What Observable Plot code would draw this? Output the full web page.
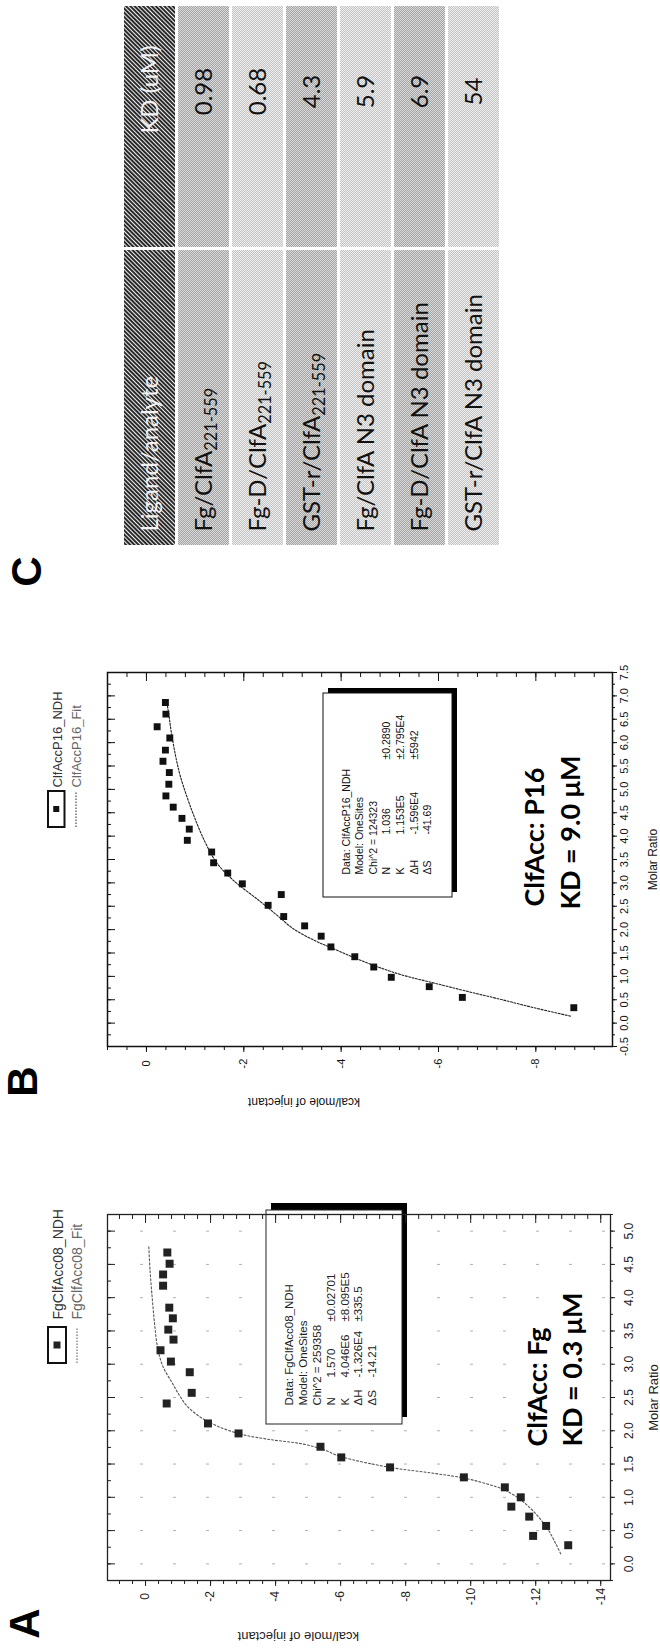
<!DOCTYPE html>
<html>
<head>
<meta charset="utf-8">
<script src="https://cdn.jsdelivr.net/npm/d3@7"></script>
<script src="https://cdn.jsdelivr.net/npm/@observablehq/plot@0.6"></script>
<style>
  html, body { margin: 0; padding: 0; background: #fff; }
  #page { position: relative; width: 660px; height: 1648px; overflow: hidden; background: #fff; }
  .panel { position: absolute; left: 0; transform-origin: 0 0; transform: rotate(-90deg); }
  .panel svg { display: block; }
</style>
</head>
<body>
<div id="page"></div>
<script>
// ================= DATA =================
// Panel A : ClfAcc vs Fg (ITC)
const aMolarRatio = [4.68, 4.51, 4.35, 4.18, 3.85, 3.69, 3.52, 3.37, 3.21, 3.04, 2.88, 2.57, 2.41, 2.11, 1.96, 1.76, 1.60, 1.45, 1.30, 1.15, 1.00, 0.86, 0.71, 0.57, 0.42, 0.28];
const aHeat = [-0.67, -0.74, -0.54, -0.54, -0.73, -0.84, -0.70, -0.86, -0.46, -0.78, -1.36, -1.42, -0.65, -1.92, -2.86, -5.38, -6.02, -7.52, -9.79, -11.05, -11.54, -11.25, -11.80, -12.32, -11.92, -13.00];
const aFitMolarRatio = [0.15, 0.30, 0.53, 0.78, 0.96, 1.11, 1.20, 1.29, 1.36, 1.45, 1.61, 1.72, 1.80, 1.87, 1.95, 2.07, 2.20, 2.37, 2.55, 2.72, 2.95, 3.22, 3.60, 3.97, 4.40, 4.77];
const aFitHeat = [-12.77, -12.62, -12.36, -11.95, -11.54, -11.05, -10.51, -9.79, -8.87, -7.52, -6.02, -5.45, -4.85, -3.80, -2.92, -2.21, -1.70, -1.28, -1.02, -0.82, -0.55, -0.38, -0.28, -0.21, -0.14, -0.10];
const aRatioTicks = [0, 0.5, 1, 1.5, 2, 2.5, 3, 3.5, 4, 4.5, 5];
const aHeatTicks = [0, -2, -4, -6, -8, -10, -12, -14];
const aLegend = ["FgClfAcc08_NDH", "FgClfAcc08_Fit"];
const aFitInfo = ["Data: FgClfAcc08_NDH", "Model: OneSites", "Chi^2 = 259358"];
const aParamNames = ["N", "K", "ΔH", "ΔS"];
const aParamValues = ["1.570", "4.046E6", "-1.326E4", "-14.21"];
const aParamErrors = ["±0.02701", "±8.095E5", "±335.5"];
const aAnnotation = ["ClfAcc: Fg", "KD = 0.3 μM"];

// Panel B : ClfAcc vs P16 (ITC)
const bMolarRatio = [6.86, 6.61, 6.34, 6.10, 5.84, 5.60, 5.36, 5.11, 4.86, 4.62, 4.38, 4.15, 3.91, 3.66, 3.43, 3.21, 2.98, 2.75, 2.52, 2.28, 2.08, 1.86, 1.63, 1.42, 1.20, 0.98, 0.78, 0.55, 0.33];
const bHeat = [-0.39, -0.40, -0.22, -0.48, -0.39, -0.34, -0.47, -0.46, -0.40, -0.55, -0.73, -0.88, -0.84, -1.34, -1.38, -1.67, -1.97, -2.77, -2.50, -2.82, -3.25, -3.59, -3.79, -4.28, -4.67, -5.03, -5.81, -6.49, -8.78];
const bFitMolarRatio = [0.15, 0.33, 0.51, 0.68, 0.86, 1.04, 1.29, 1.61, 1.76, 2.01, 2.31, 2.60, 3.05, 3.42, 3.86, 4.53, 5.27, 5.71, 6.23, 6.60, 6.86];
const bFitHeat = [-8.71, -7.96, -7.27, -6.59, -5.90, -5.22, -4.53, -3.80, -3.47, -3.03, -2.68, -2.34, -1.79, -1.45, -1.21, -0.94, -0.70, -0.60, -0.51, -0.46, -0.42];
const bRatioTicks = [-0.5, 0, 0.5, 1, 1.5, 2, 2.5, 3, 3.5, 4, 4.5, 5, 5.5, 6, 6.5, 7, 7.5];
const bHeatTicks = [0, -2, -4, -6, -8];
const bLegend = ["ClfAccP16_NDH", "ClfAccP16_Fit"];
const bFitInfo = ["Data: ClfAccP16_NDH", "Model: OneSites", "Chi^2 = 124323"];
const bParamNames = ["N", "K", "ΔH", "ΔS"];
const bParamValues = ["1.036", "1.153E5", "-1.596E4", "-41.69"];
const bParamErrors = ["±0.2890", "±2.795E4", "±5942"];
const bAnnotation = ["ClfAcc: P16", "KD = 9.0 μM"];

// Panel C : table
const cHeader = ["Ligand/analyte", "KD (uM)"];
const cLigand = ["Fg/ClfA", "Fg-D/ClfA", "GST-r/ClfA", "Fg/ClfA N3 domain", "Fg-D/ClfA N3 domain", "GST-r/ClfA N3 domain"];
const cLigandSub = ["221-559", "221-559", "221-559", "", "", ""];
const cKD = ["0.98", "0.68", "4.3", "5.9", "6.9", "54"];

const panelLetters = ["A", "B", "C"];

// ================= HELPERS =================
const SANS = "'Liberation Sans', Arial, sans-serif";
function decor(draw) {
  return () => { const g = d3.create("svg:g"); draw(g); return g.node(); };
}
function txt(str, u, v, M, opts = {}) {
  return Plot.text([str], {text: d => d, frameAnchor: "top-left", dx: u - M.left, dy: v - M.top,
    textAnchor: "start", lineAnchor: "middle", ...opts});
}
function minorTicks(domain, step) {
  const lo = Math.min(...domain), hi = Math.max(...domain);
  return d3.range(Math.ceil(lo / step - 1e-6), Math.floor(hi / step + 1e-6) + 1).map(i => +(i * step).toFixed(3));
}

function itcPanel(p) {
  const M = p.margin;
  const iw = p.width - M.left - M.right, ih = p.height - M.top - M.bottom;
  const ink = p.ink;
  const xMinor = minorTicks(p.xDomain, p.xMinorStep);
  const yMinor = minorTicks(p.yDomain, p.yMinorStep);
  const pts = p.ratio.map((m, i) => ({m, q: p.heat[i]}));
  const fit = p.fitRatio.map((m, i) => ({m, q: p.fitHeat[i]}));
  const b = p.box, L = p.legend;
  const marks = [];
  if (p.grid) marks.push(Plot.ruleX(p.xTicks, {x: d => d, stroke: "#b0b0b0", strokeWidth: 1, strokeDasharray: "3,30"}));
  // info box with drop shadow
  marks.push(decor(g => {
    g.append("rect").attr("x", b.u + b.sx).attr("y", b.v + b.sy).attr("width", b.w).attr("height", b.h).attr("fill", "#000");
    g.append("rect").attr("x", b.u).attr("y", b.v).attr("width", b.w).attr("height", b.h)
      .attr("fill", "#fff").attr("stroke", ink).attr("stroke-width", 1);
  }));
  marks.push(Plot.frame({stroke: ink, strokeWidth: p.frameWidth}));
  // outward ticks (bottom & left)
  marks.push(Plot.tickX(xMinor, {x: d => d, stroke: ink, insetTop: ih, insetBottom: -3}));
  marks.push(Plot.tickX(p.xTicks, {x: d => d, stroke: ink, insetTop: ih, insetBottom: -5}));
  marks.push(Plot.tickY(yMinor, {y: d => d, stroke: ink, insetRight: iw, insetLeft: -3}));
  marks.push(Plot.tickY(p.yTicks, {y: d => d, stroke: ink, insetRight: iw, insetLeft: -5}));
  // inward ticks (top & right)
  marks.push(Plot.tickX(xMinor, {x: d => d, stroke: ink, insetBottom: ih - 4}));
  marks.push(Plot.tickX(p.xTicks, {x: d => d, stroke: ink, insetBottom: ih - 8}));
  marks.push(Plot.tickY(yMinor, {y: d => d, stroke: ink, insetLeft: iw - 4}));
  marks.push(Plot.tickY(p.yTicks, {y: d => d, stroke: ink, insetLeft: iw - 8}));
  // tick labels
  marks.push(Plot.axisX(p.xTicks, {anchor: "bottom", tickSize: 0, tickPadding: 5 + p.xTickPad, tickFormat: d => d.toFixed(1),
    label: null, color: ink, fontSize: p.tickFont}));
  marks.push(Plot.axisY(p.yTicks, {anchor: "left", tickSize: 0, tickPadding: p.yTickPad, textAnchor: "middle",
    tickFormat: d => String(d), label: null, color: ink, fontSize: p.tickFont}));
  // data
  marks.push(Plot.line(fit, {x: "m", y: "q", stroke: p.fitColor, strokeWidth: 1.1, strokeDasharray: p.fitDash, curve: "catmull-rom"}));
  marks.push(Plot.dot(pts, {x: "m", y: "q", symbol: "square", r: p.r, fill: ink, stroke: "none"}));
  // axis labels
  marks.push(Plot.text([p.xLabel], {text: d => d, frameAnchor: "bottom", dy: p.xLabelDy, lineAnchor: "middle",
    fontSize: p.labelFont, fill: ink}));
  marks.push(Plot.text([p.yLabel], {text: d => d, frameAnchor: "left", dx: p.yLabelU - M.left, rotate: -90,
    lineAnchor: "middle", fontSize: p.labelFont, fill: ink}));
  // panel letter
  marks.push(txt(p.letter, p.letterU, p.letterV, M, {textAnchor: "middle", fontSize: 42, fontWeight: "bold", fill: "#000"}));
  // legend
  marks.push(decor(g => {
    g.append("rect").attr("x", L.u).attr("y", L.v).attr("width", L.w).attr("height", L.h)
      .attr("fill", "#fff").attr("stroke", "#111").attr("stroke-width", 2);
    g.append("rect").attr("x", L.u + L.w / 2 - L.s / 2).attr("y", L.v + L.h / 2 - L.s / 2)
      .attr("width", L.s).attr("height", L.s).attr("fill", ink);
    g.append("line").attr("x1", L.u).attr("x2", L.u + L.w).attr("y1", L.lineV).attr("y2", L.lineV)
      .attr("stroke", p.fitColor).attr("stroke-width", 1).attr("stroke-dasharray", "1.5,1.5");
  }));
  marks.push(txt(p.legendLabels[0], L.textU, L.v1, M, {fontSize: L.font, fill: "#333"}));
  marks.push(txt(p.legendLabels[1], L.textU, L.v2, M, {fontSize: L.font, fill: "#666"}));
  // box text
  const lh = b.lh / b.font;
  const col1 = [...p.fitInfo, ...p.paramNames].join("\n");
  marks.push(txt(col1, b.textU, b.firstV - 0.36 * b.font, M, {lineAnchor: "top", lineHeight: lh, fontSize: b.font, fill: ink}));
  const v4 = b.firstV + 3 * b.lh - 0.36 * b.font;
  marks.push(txt(p.paramValues.join("\n"), b.valU, v4, M, {lineAnchor: "top", lineHeight: lh, fontSize: b.font, fill: ink}));
  marks.push(txt(p.paramErrors.join("\n"), b.errU, v4, M, {lineAnchor: "top", lineHeight: lh, fontSize: b.font, fill: ink}));
  // annotation
  p.annotation.forEach((s, i) => marks.push(txt(s, p.annU[i], p.annV[i], M,
    {fontFamily: "Lato, 'Open Sans', sans-serif", fontWeight: "bold", fontSize: 27, fill: "#000"})));

  return Plot.plot({
    width: p.width, height: p.height,
    marginTop: M.top, marginRight: M.right, marginBottom: M.bottom, marginLeft: M.left,
    x: {domain: p.xDomain}, y: {domain: p.yDomain},
    style: {fontFamily: SANS, fontSize: "12px", background: "transparent", color: ink},
    marks
  });
}

// ================= PANEL A =================
const plotA = itcPanel({
  width: 538, height: 660, margin: {top: 107, right: 105, bottom: 50, left: 67},
  xDomain: [-0.25, 5.25], yDomain: [-14.3, 1.17],
  ratio: aMolarRatio, heat: aHeat, fitRatio: aFitMolarRatio, fitHeat: aFitHeat,
  xTicks: aRatioTicks, yTicks: aHeatTicks, xMinorStep: 0.25, yMinorStep: 0.4,
  grid: true, ink: "#222", frameWidth: 1.3, fitColor: "#555", fitDash: "2,2", r: 4.5,
  tickFont: 12, xTickPad: 9, yTickPad: 16, labelFont: 13,
  xLabel: "Molar Ratio", xLabelDy: 43, yLabel: "kcal/mole of injectant", yLabelU: 11,
  letter: panelLetters[0], letterU: 24, letterV: 25,
  legend: {u: 285, v: 48, w: 36, h: 18, s: 7, lineV: 77, textU: 328, v1: 58, v2: 77.5, font: 14},
  legendLabels: aLegend,
  box: {u: 224, v: 266, w: 214, h: 136, sx: 7, sy: 5, font: 11.5, lh: 13.9, firstV: 286.7, textU: 242, valU: 270, errU: 326},
  fitInfo: aFitInfo, paramNames: aParamNames, paramValues: aParamValues, paramErrors: aParamErrors,
  annotation: aAnnotation, annU: [201, 201], annV: [537.4, 572.9]
});

// ================= PANEL B =================
const plotB = itcPanel({
  width: 520, height: 660, margin: {top: 107, right: 83, bottom: 48, left: 63},
  xDomain: [-0.5, 7.5], yDomain: [-9.575, 0.8],
  ratio: bMolarRatio, heat: bHeat, fitRatio: bFitMolarRatio, fitHeat: bFitHeat,
  xTicks: bRatioTicks, yTicks: bHeatTicks, xMinorStep: 0.25, yMinorStep: 0.4,
  grid: false, ink: "#111", frameWidth: 1.5, fitColor: "#222", fitDash: "2,1.5", r: 3.9,
  tickFont: 11, xTickPad: 2.5, yTickPad: 17, labelFont: 12,
  xLabel: "Molar Ratio", xLabelDy: 41, yLabel: "kcal/mole of injectant", yLabelU: 8,
  letter: panelLetters[1], letterU: 28, letterV: 23.5,
  legend: {u: 283, v: 48, w: 36, h: 16.5, s: 6, lineV: 76, textU: 322, v1: 57.5, v2: 76, font: 13},
  legendLabels: bLegend,
  box: {u: 213, v: 323, w: 204, h: 129, sx: 5, sy: 5, font: 10.5, lh: 13.6, firstV: 343.3, textU: 235, valU: 275, errU: 350},
  fitInfo: bFitInfo, paramNames: bParamNames, paramValues: bParamValues, paramErrors: bParamErrors,
  annotation: bAnnotation, annU: [203, 200], annV: [534.4, 570.4]
});

// ================= PANEL C (table) =================
function tablePanel() {
  const W = 590, H = 660;
  const M = {top: 122, right: 5, bottom: 160, left: 44};
  const headCells = cHeader.map((t, j) => ({row: 0, col: j, t}));
  const body = cLigand.map((name, i) => ({row: i + 1, name, sub: cLigandSub[i], kd: cKD[i]}));
  const dark = body.filter(d => d.row % 2 === 1), light = body.filter(d => d.row % 2 === 0);
  const widen = 27;      // first column is wider than the second
  const kdHeadDx = 50;   // text offsets inside the second column
  const kdDx = 48;
  const CAL = "Lato, 'Open Sans', sans-serif";
  const defs = decor(g => {
    const d = g.append("defs");
    const h = d.append("pattern").attr("id", "hatch").attr("width", 3).attr("height", 3)
      .attr("patternUnits", "userSpaceOnUse").attr("patternTransform", "rotate(45)");
    h.append("rect").attr("width", 3).attr("height", 3).attr("fill", "#f0f0f0");
    h.append("rect").attr("width", 2).attr("height", 3).attr("fill", "#2a2a2a");
    [["dotsDark", "#dcdcdc", "#a2a2a2"], ["dotsLight", "#f0f0f0", "#c2c2c2"]].forEach(([id, base, dot]) => {
      const p = d.append("pattern").attr("id", id).attr("width", 2).attr("height", 2).attr("patternUnits", "userSpaceOnUse");
      p.append("rect").attr("width", 2).attr("height", 2).attr("fill", base);
      p.append("rect").attr("width", 1).attr("height", 1).attr("fill", dot);
      p.append("rect").attr("x", 1).attr("y", 1).attr("width", 1).attr("height", 1).attr("fill", dot);
    });
  });
  const svg = Plot.plot({
    width: W, height: H,
    marginTop: M.top, marginRight: M.right, marginBottom: M.bottom, marginLeft: M.left,
    x: {type: "band", domain: [0, 1], paddingInner: 0.011, paddingOuter: 0, axis: null},
    y: {type: "band", domain: d3.range(cLigand.length + 1), paddingInner: 0.056, paddingOuter: 0, axis: null},
    style: {fontFamily: CAL, background: "transparent"},
    marks: [
      defs,
      Plot.cell(headCells.filter(c => c.col === 0), {x: "col", y: "row", fill: "url(#hatch)", insetRight: -widen}),
      Plot.cell(headCells.filter(c => c.col === 1), {x: "col", y: "row", fill: "url(#hatch)", insetLeft: widen}),
      Plot.cell(dark, {x: () => 0, y: "row", fill: "url(#dotsDark)", insetRight: -widen}),
      Plot.cell(dark, {x: () => 1, y: "row", fill: "url(#dotsDark)", insetLeft: widen}),
      Plot.cell(light, {x: () => 0, y: "row", fill: "url(#dotsLight)", insetRight: -widen}),
      Plot.cell(light, {x: () => 1, y: "row", fill: "url(#dotsLight)", insetLeft: widen}),
      Plot.text(headCells.filter(c => c.col === 0), {y: "row", text: "t", frameAnchor: "left", dx: 14,
        textAnchor: "start", fontSize: 24, fill: "#f2f2f2"}),
      Plot.text(headCells.filter(c => c.col === 1), {x: "col", y: "row", text: "t", dx: kdHeadDx,
        fontSize: 24, fill: "#f2f2f2"}),
      Plot.text(body, {y: "row", text: d => d.name + d.sub, frameAnchor: "left", dx: 14,
        textAnchor: "start", fontSize: 24, fill: "#111"}),
      Plot.text(body, {x: () => 1, y: "row", text: "kd", dx: kdDx, fontSize: 24, fill: "#111"}),
      txt(panelLetters[2], 18, 27, M, {textAnchor: "middle", fontSize: 42, fontWeight: "bold", fill: "#000", fontFamily: SANS})
    ]
  });
  // subscripts (221-559)
  d3.select(svg).selectAll("text").each(function () {
    const r = body.find(d => d.sub && this.textContent === d.name + d.sub);
    if (r) {
      const el = d3.select(this);
      el.text(r.name);
      el.append("tspan").attr("dy", "0.32em").attr("font-size", "0.68em").text(r.sub);
    }
  });
  return svg;
}
const plotC = tablePanel();

// ================= LAYOUT (figure is rotated 90° counter-clockwise) =================
const page = document.getElementById("page");
function mount(svg, top) {
  const div = document.createElement("div");
  div.className = "panel";
  div.style.top = top + "px";
  div.appendChild(svg);
  page.appendChild(div);
}
mount(plotC, 590);
mount(plotB, 1110);
mount(plotA, 1648);
</script>
</body>
</html>
